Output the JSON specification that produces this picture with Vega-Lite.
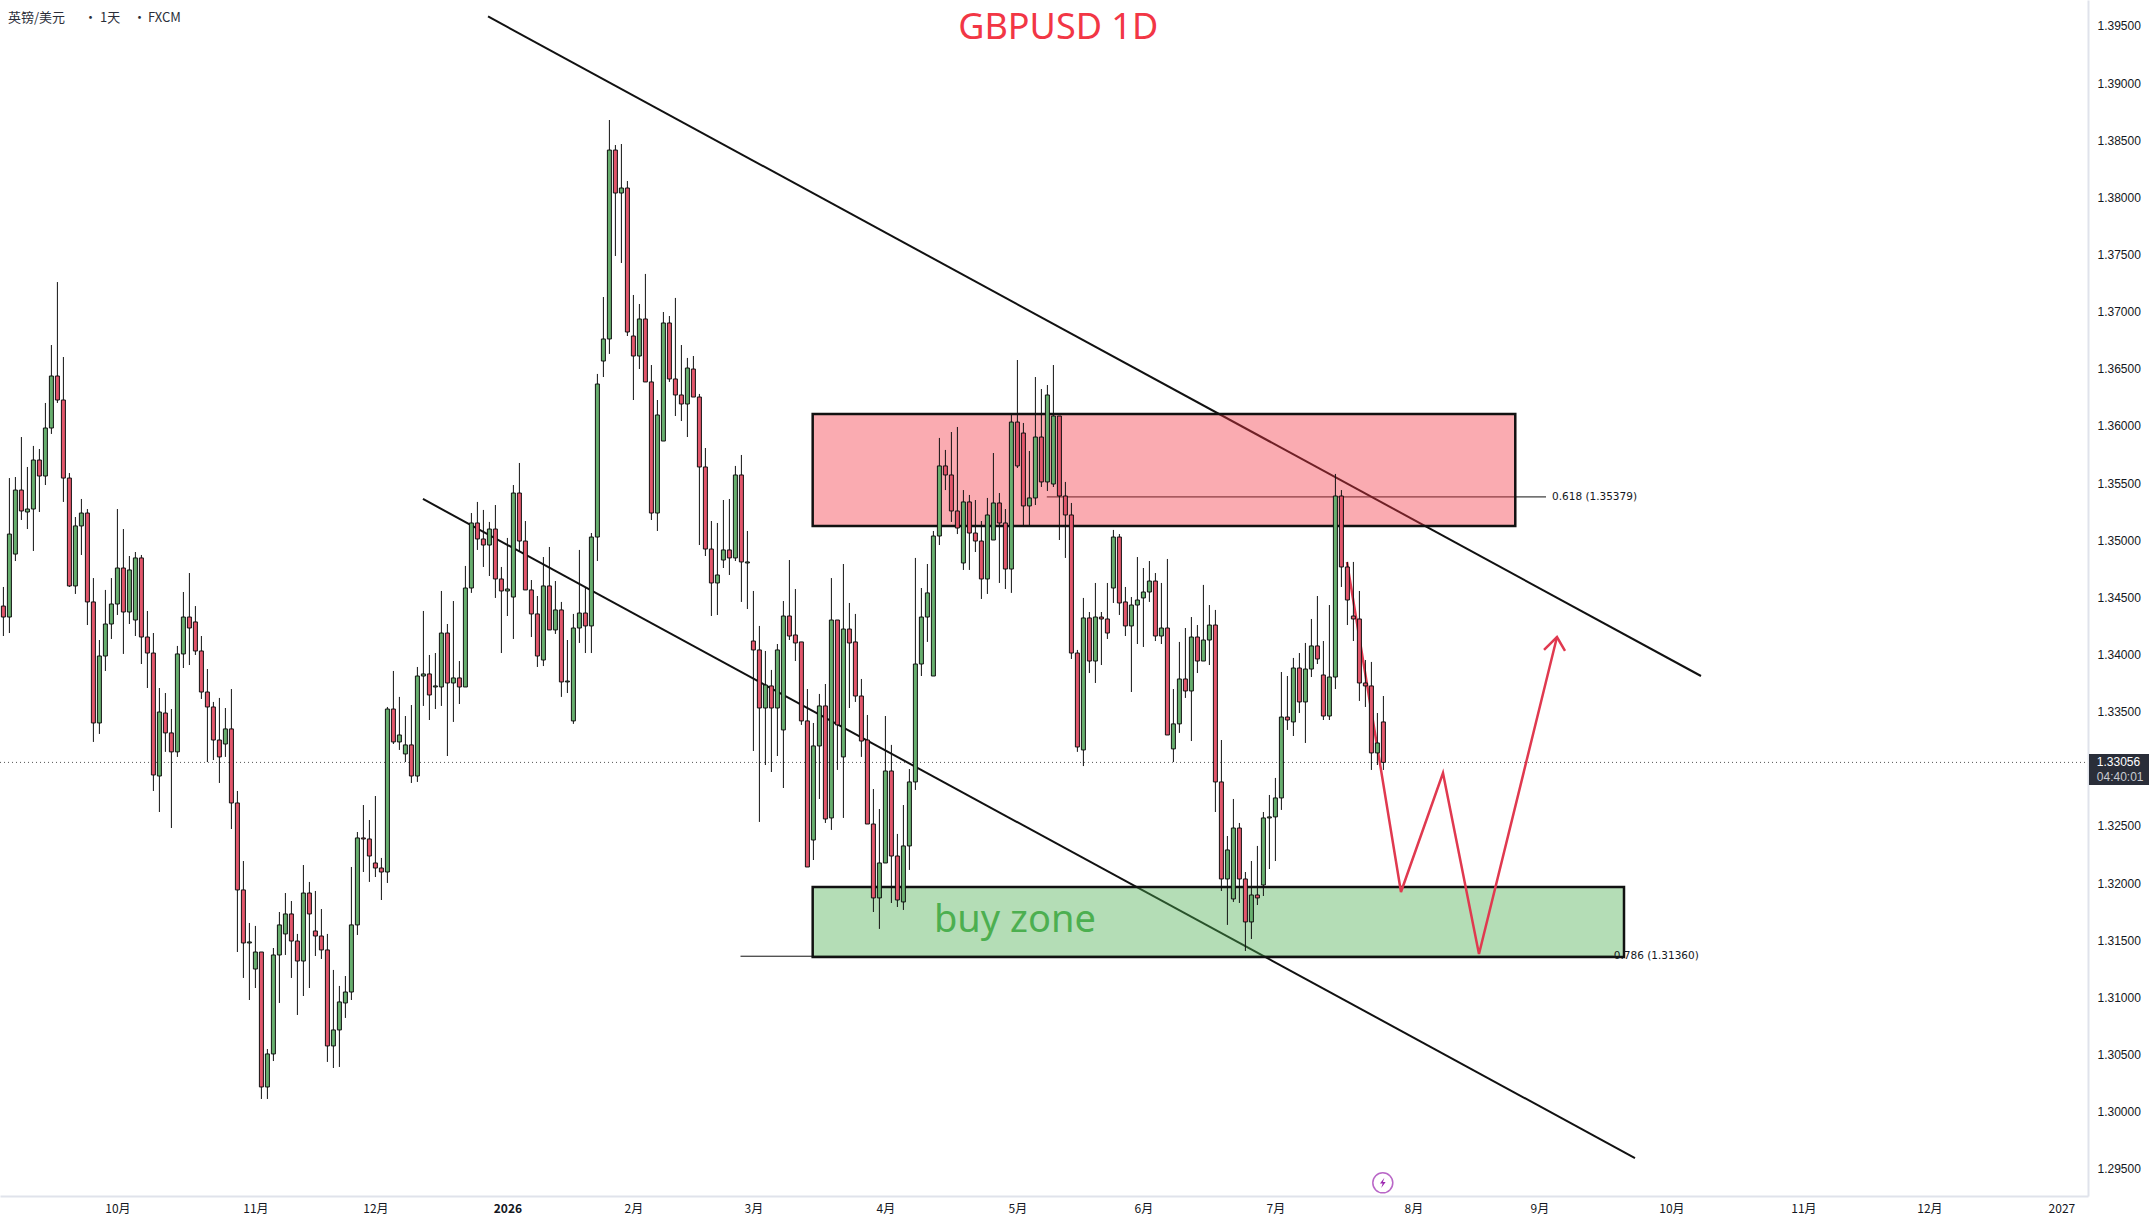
{
"$schema":"https://vega.github.io/schema/vega-lite/v6.json",
"width":2088,"height":1196,
"autosize":{"type":"none"},
"padding":{"left":0,"top":0,"right":66,"bottom":28},
"background":"white",
"config":{"view":{"stroke":null}},
"datasets":{
"candles":[
{"bar":0,"open":1.34424,"high":1.34591,"low":1.34162,"close":1.34328},
{"bar":1,"open":1.34328,"high":1.35544,"low":1.34188,"close":1.35054},
{"bar":2,"open":1.34879,"high":1.35553,"low":1.34818,"close":1.35439},
{"bar":3,"open":1.35439,"high":1.35903,"low":1.35177,"close":1.35256},
{"bar":4,"open":1.35247,"high":1.35641,"low":1.35098,"close":1.35273},
{"bar":5,"open":1.35273,"high":1.35825,"low":1.34906,"close":1.35702},
{"bar":6,"open":1.35702,"high":1.35798,"low":1.35247,"close":1.35562},
{"bar":7,"open":1.35562,"high":1.36201,"low":1.35483,"close":1.35982},
{"bar":8,"open":1.35982,"high":1.36708,"low":1.3593,"close":1.36437},
{"bar":9,"open":1.36437,"high":1.37259,"low":1.36201,"close":1.36227},
{"bar":10,"open":1.36227,"high":1.36603,"low":1.35335,"close":1.35544},
{"bar":11,"open":1.35544,"high":1.35588,"low":1.34591,"close":1.346},
{"bar":12,"open":1.346,"high":1.35203,"low":1.3453,"close":1.35125},
{"bar":13,"open":1.35125,"high":1.35361,"low":1.34871,"close":1.35238},
{"bar":14,"open":1.35238,"high":1.35273,"low":1.34258,"close":1.3446},
{"bar":15,"open":1.3446,"high":1.34669,"low":1.33235,"close":1.33401},
{"bar":16,"open":1.33401,"high":1.34127,"low":1.33305,"close":1.33987},
{"bar":17,"open":1.33987,"high":1.34565,"low":1.33856,"close":1.34267},
{"bar":18,"open":1.34267,"high":1.34669,"low":1.34136,"close":1.34442},
{"bar":19,"open":1.34442,"high":1.35273,"low":1.34346,"close":1.34757},
{"bar":20,"open":1.34757,"high":1.35098,"low":1.34005,"close":1.34372},
{"bar":21,"open":1.34372,"high":1.34862,"low":1.34267,"close":1.3474},
{"bar":22,"open":1.34302,"high":1.34897,"low":1.34162,"close":1.34845},
{"bar":23,"open":1.34845,"high":1.34871,"low":1.33917,"close":1.34153},
{"bar":24,"open":1.34153,"high":1.34381,"low":1.33707,"close":1.34013},
{"bar":25,"open":1.34013,"high":1.34188,"low":1.32806,"close":1.32946},
{"bar":26,"open":1.32937,"high":1.33707,"low":1.32622,"close":1.33497},
{"bar":27,"open":1.33488,"high":1.33663,"low":1.33148,"close":1.33314},
{"bar":28,"open":1.33314,"high":1.33523,"low":1.32482,"close":1.33148},
{"bar":29,"open":1.33148,"high":1.34075,"low":1.33104,"close":1.34005},
{"bar":30,"open":1.34005,"high":1.34547,"low":1.33882,"close":1.34328},
{"bar":31,"open":1.34328,"high":1.34713,"low":1.33908,"close":1.34232},
{"bar":32,"open":1.34285,"high":1.34424,"low":1.33996,"close":1.34031},
{"bar":33,"open":1.34031,"high":1.34162,"low":1.33611,"close":1.33672},
{"bar":34,"open":1.33672,"high":1.33873,"low":1.33059,"close":1.33541},
{"bar":35,"open":1.33541,"high":1.33585,"low":1.33077,"close":1.33252},
{"bar":36,"open":1.33252,"high":1.3362,"low":1.32876,"close":1.33104},
{"bar":37,"open":1.33217,"high":1.33532,"low":1.33104,"close":1.33349},
{"bar":38,"open":1.33349,"high":1.33698,"low":1.32473,"close":1.32701},
{"bar":39,"open":1.32701,"high":1.32806,"low":1.31397,"close":1.3194},
{"bar":40,"open":1.3194,"high":1.32193,"low":1.3117,"close":1.31476},
{"bar":41,"open":1.31476,"high":1.31651,"low":1.30977,"close":1.31485},
{"bar":42,"open":1.31248,"high":1.31625,"low":1.31082,"close":1.31397},
{"bar":43,"open":1.31397,"high":1.31397,"low":1.30111,"close":1.30216},
{"bar":44,"open":1.30216,"high":1.30548,"low":1.30111,"close":1.30505},
{"bar":45,"open":1.30505,"high":1.31432,"low":1.30443,"close":1.31371},
{"bar":46,"open":1.31371,"high":1.31747,"low":1.30951,"close":1.31634},
{"bar":47,"open":1.31555,"high":1.31913,"low":1.31371,"close":1.3173},
{"bar":48,"open":1.3173,"high":1.31843,"low":1.3117,"close":1.31493},
{"bar":49,"open":1.31493,"high":1.31555,"low":1.30846,"close":1.31318},
{"bar":50,"open":1.31318,"high":1.32158,"low":1.31012,"close":1.31913},
{"bar":51,"open":1.31913,"high":1.3201,"low":1.31082,"close":1.3173},
{"bar":52,"open":1.31581,"high":1.31931,"low":1.31362,"close":1.31537},
{"bar":53,"open":1.31537,"high":1.31773,"low":1.31336,"close":1.31415},
{"bar":54,"open":1.31415,"high":1.31555,"low":1.30435,"close":1.30575},
{"bar":55,"open":1.30575,"high":1.3124,"low":1.30382,"close":1.30715},
{"bar":56,"open":1.30715,"high":1.311,"low":1.30391,"close":1.3096},
{"bar":57,"open":1.30951,"high":1.31187,"low":1.3082,"close":1.31047},
{"bar":58,"open":1.31047,"high":1.32141,"low":1.30977,"close":1.31634},
{"bar":59,"open":1.31634,"high":1.32447,"low":1.31546,"close":1.32395},
{"bar":60,"open":1.32395,"high":1.32683,"low":1.32097,"close":1.32386},
{"bar":61,"open":1.32386,"high":1.32552,"low":1.3201,"close":1.32237},
{"bar":62,"open":1.32176,"high":1.32762,"low":1.32053,"close":1.32132},
{"bar":63,"open":1.32132,"high":1.3222,"low":1.31852,"close":1.32097},
{"bar":64,"open":1.32097,"high":1.33541,"low":1.32001,"close":1.33523},
{"bar":65,"open":1.33523,"high":1.33856,"low":1.33217,"close":1.33235},
{"bar":66,"open":1.33235,"high":1.33629,"low":1.33165,"close":1.33296},
{"bar":67,"open":1.3313,"high":1.33462,"low":1.33059,"close":1.33209},
{"bar":68,"open":1.33209,"high":1.33558,"low":1.32876,"close":1.32937},
{"bar":69,"open":1.32937,"high":1.33891,"low":1.32885,"close":1.33812},
{"bar":70,"open":1.33812,"high":1.34381,"low":1.3355,"close":1.3383},
{"bar":71,"open":1.3383,"high":1.33996,"low":1.33427,"close":1.33646},
{"bar":72,"open":1.33716,"high":1.34013,"low":1.33523,"close":1.33725},
{"bar":73,"open":1.33716,"high":1.34556,"low":1.3355,"close":1.34188},
{"bar":74,"open":1.34188,"high":1.34267,"low":1.33112,"close":1.33751},
{"bar":75,"open":1.33751,"high":1.34468,"low":1.3341,"close":1.33795},
{"bar":76,"open":1.33795,"high":1.33943,"low":1.33567,"close":1.33716},
{"bar":77,"open":1.33716,"high":1.34775,"low":1.33716,"close":1.34582},
{"bar":78,"open":1.34582,"high":1.35238,"low":1.34539,"close":1.35151},
{"bar":79,"open":1.35151,"high":1.35335,"low":1.34915,"close":1.35011},
{"bar":80,"open":1.35011,"high":1.35265,"low":1.34766,"close":1.34958},
{"bar":81,"open":1.34958,"high":1.3516,"low":1.34687,"close":1.35098},
{"bar":82,"open":1.35098,"high":1.35308,"low":1.34495,"close":1.34661},
{"bar":83,"open":1.34661,"high":1.34766,"low":1.34013,"close":1.34556},
{"bar":84,"open":1.34556,"high":1.3502,"low":1.34337,"close":1.34573},
{"bar":85,"open":1.34503,"high":1.35483,"low":1.34136,"close":1.35413},
{"bar":86,"open":1.35413,"high":1.35676,"low":1.34897,"close":1.34993},
{"bar":87,"open":1.34993,"high":1.35168,"low":1.34565,"close":1.34565},
{"bar":88,"open":1.34565,"high":1.34652,"low":1.34153,"close":1.34355},
{"bar":89,"open":1.34355,"high":1.34512,"low":1.33891,"close":1.33987},
{"bar":90,"open":1.33952,"high":1.34853,"low":1.33899,"close":1.346},
{"bar":91,"open":1.346,"high":1.34941,"low":1.34215,"close":1.34215},
{"bar":92,"open":1.34215,"high":1.34643,"low":1.3418,"close":1.3439},
{"bar":93,"open":1.3439,"high":1.3446,"low":1.33629,"close":1.3376},
{"bar":94,"open":1.3376,"high":1.34127,"low":1.33663,"close":1.33768},
{"bar":95,"open":1.33419,"high":1.34355,"low":1.33393,"close":1.34232},
{"bar":96,"open":1.34232,"high":1.34915,"low":1.34101,"close":1.34363},
{"bar":97,"open":1.34363,"high":1.34591,"low":1.34013,"close":1.3425},
{"bar":98,"open":1.3425,"high":1.35063,"low":1.34013,"close":1.35028},
{"bar":99,"open":1.35028,"high":1.36455,"low":1.34818,"close":1.36367},
{"bar":100,"open":1.36568,"high":1.37128,"low":1.36428,"close":1.36761},
{"bar":101,"open":1.36761,"high":1.38677,"low":1.3663,"close":1.38414},
{"bar":102,"open":1.38414,"high":1.38458,"low":1.37487,"close":1.38038},
{"bar":103,"open":1.38038,"high":1.38467,"low":1.37426,"close":1.38082},
{"bar":104,"open":1.38082,"high":1.38143,"low":1.36787,"close":1.36822},
{"bar":105,"open":1.36787,"high":1.37146,"low":1.36227,"close":1.36612},
{"bar":106,"open":1.36612,"high":1.37067,"low":1.36498,"close":1.36936},
{"bar":107,"open":1.36936,"high":1.3733,"low":1.36385,"close":1.36385},
{"bar":108,"open":1.36385,"high":1.36533,"low":1.35177,"close":1.35238},
{"bar":109,"open":1.35238,"high":1.36227,"low":1.35081,"close":1.36096},
{"bar":110,"open":1.35868,"high":1.36997,"low":1.35868,"close":1.36901},
{"bar":111,"open":1.36901,"high":1.36962,"low":1.36385,"close":1.36411},
{"bar":112,"open":1.36411,"high":1.3712,"low":1.36087,"close":1.36271},
{"bar":113,"open":1.36271,"high":1.36708,"low":1.36043,"close":1.36192},
{"bar":114,"open":1.36192,"high":1.36595,"low":1.35903,"close":1.36507},
{"bar":115,"open":1.36498,"high":1.36612,"low":1.36253,"close":1.36253},
{"bar":116,"open":1.36253,"high":1.3628,"low":1.34958,"close":1.35641},
{"bar":117,"open":1.35641,"high":1.35807,"low":1.34862,"close":1.34923},
{"bar":118,"open":1.34923,"high":1.35168,"low":1.34337,"close":1.34626},
{"bar":119,"open":1.34626,"high":1.35151,"low":1.34346,"close":1.34696},
{"bar":120,"open":1.34827,"high":1.35352,"low":1.34757,"close":1.34915},
{"bar":121,"open":1.34915,"high":1.35361,"low":1.34696,"close":1.34845},
{"bar":122,"open":1.34845,"high":1.3565,"low":1.34818,"close":1.35571},
{"bar":123,"open":1.35571,"high":1.35746,"low":1.3446,"close":1.3481},
{"bar":124,"open":1.34801,"high":1.35081,"low":1.34398,"close":1.3481},
{"bar":125,"open":1.34118,"high":1.34556,"low":1.33156,"close":1.3404},
{"bar":126,"open":1.3404,"high":1.3425,"low":1.32535,"close":1.33532},
{"bar":127,"open":1.33532,"high":1.34031,"low":1.33033,"close":1.33733},
{"bar":128,"open":1.33725,"high":1.33865,"low":1.32972,"close":1.33532},
{"bar":129,"open":1.33532,"high":1.34092,"low":1.33112,"close":1.3404},
{"bar":130,"open":1.3334,"high":1.34468,"low":1.32832,"close":1.34337},
{"bar":131,"open":1.34337,"high":1.34827,"low":1.34127,"close":1.34162},
{"bar":132,"open":1.34171,"high":1.34573,"low":1.33943,"close":1.34101},
{"bar":133,"open":1.3411,"high":1.3411,"low":1.33384,"close":1.33419},
{"bar":134,"open":1.33419,"high":1.33698,"low":1.32141,"close":1.32141},
{"bar":135,"open":1.32377,"high":1.33401,"low":1.32202,"close":1.332},
{"bar":136,"open":1.332,"high":1.33655,"low":1.32736,"close":1.3355},
{"bar":137,"open":1.3355,"high":1.33742,"low":1.32526,"close":1.32561},
{"bar":138,"open":1.3257,"high":1.34669,"low":1.32465,"close":1.34302},
{"bar":139,"open":1.34302,"high":1.34302,"low":1.3299,"close":1.33384},
{"bar":140,"open":1.33104,"high":1.34792,"low":1.3257,"close":1.34223},
{"bar":141,"open":1.34223,"high":1.34451,"low":1.33532,"close":1.34101},
{"bar":142,"open":1.3411,"high":1.34355,"low":1.33585,"close":1.33637},
{"bar":143,"open":1.33637,"high":1.33786,"low":1.33104,"close":1.33243},
{"bar":144,"open":1.33252,"high":1.33471,"low":1.32517,"close":1.32517},
{"bar":145,"open":1.32517,"high":1.32823,"low":1.31747,"close":1.3187},
{"bar":146,"open":1.3187,"high":1.32648,"low":1.31599,"close":1.32176},
{"bar":147,"open":1.32176,"high":1.33462,"low":1.32176,"close":1.32981},
{"bar":148,"open":1.32981,"high":1.33209,"low":1.31826,"close":1.32237},
{"bar":149,"open":1.32237,"high":1.3243,"low":1.31791,"close":1.31852},
{"bar":150,"open":1.31835,"high":1.32683,"low":1.31765,"close":1.32325},
{"bar":151,"open":1.32325,"high":1.32998,"low":1.32115,"close":1.32885},
{"bar":152,"open":1.32885,"high":1.34845,"low":1.32815,"close":1.33917},
{"bar":153,"open":1.33917,"high":1.34582,"low":1.33812,"close":1.34328},
{"bar":154,"open":1.34328,"high":1.34792,"low":1.3411,"close":1.34539},
{"bar":155,"open":1.33812,"high":1.35081,"low":1.33812,"close":1.35037},
{"bar":156,"open":1.35037,"high":1.35895,"low":1.34958,"close":1.3565},
{"bar":157,"open":1.3565,"high":1.3579,"low":1.35439,"close":1.35571},
{"bar":158,"open":1.35571,"high":1.35947,"low":1.3516,"close":1.35256},
{"bar":159,"open":1.35256,"high":1.35991,"low":1.35054,"close":1.35107},
{"bar":160,"open":1.34801,"high":1.35439,"low":1.3474,"close":1.35335},
{"bar":161,"open":1.35335,"high":1.35396,"low":1.3474,"close":1.35063},
{"bar":162,"open":1.35063,"high":1.35352,"low":1.34897,"close":1.34993},
{"bar":163,"open":1.34993,"high":1.35168,"low":1.34486,"close":1.34661},
{"bar":164,"open":1.34661,"high":1.3537,"low":1.3453,"close":1.35221},
{"bar":165,"open":1.35002,"high":1.35763,"low":1.35002,"close":1.35326},
{"bar":166,"open":1.35326,"high":1.35413,"low":1.34626,"close":1.35151},
{"bar":167,"open":1.35151,"high":1.35273,"low":1.34573,"close":1.34748},
{"bar":168,"open":1.34748,"high":1.36096,"low":1.34539,"close":1.36034},
{"bar":169,"open":1.36034,"high":1.36577,"low":1.35632,"close":1.3565},
{"bar":170,"open":1.35938,"high":1.36026,"low":1.35133,"close":1.353},
{"bar":171,"open":1.353,"high":1.35781,"low":1.35133,"close":1.3537},
{"bar":172,"open":1.3537,"high":1.36428,"low":1.35308,"close":1.35903},
{"bar":173,"open":1.35903,"high":1.36323,"low":1.35466,"close":1.3551},
{"bar":174,"open":1.3551,"high":1.36358,"low":1.35431,"close":1.36271},
{"bar":175,"open":1.35492,"high":1.36533,"low":1.35466,"close":1.36087},
{"bar":176,"open":1.36087,"high":1.36087,"low":1.35002,"close":1.35387},
{"bar":177,"open":1.35387,"high":1.3551,"low":1.34845,"close":1.35221},
{"bar":178,"open":1.35221,"high":1.35326,"low":1.33961,"close":1.34013},
{"bar":179,"open":1.34013,"high":1.3404,"low":1.33148,"close":1.33191},
{"bar":180,"open":1.33165,"high":1.34495,"low":1.33024,"close":1.3432},
{"bar":181,"open":1.3432,"high":1.34372,"low":1.33838,"close":1.33943},
{"bar":182,"open":1.33943,"high":1.34626,"low":1.33751,"close":1.34328},
{"bar":183,"open":1.34328,"high":1.34372,"low":1.33908,"close":1.34311},
{"bar":184,"open":1.34311,"high":1.34626,"low":1.34136,"close":1.34188},
{"bar":185,"open":1.34582,"high":1.3509,"low":1.34451,"close":1.35028},
{"bar":186,"open":1.35028,"high":1.35054,"low":1.34346,"close":1.34451},
{"bar":187,"open":1.3446,"high":1.34591,"low":1.34162,"close":1.3425},
{"bar":188,"open":1.3425,"high":1.34503,"low":1.33672,"close":1.34433},
{"bar":189,"open":1.34433,"high":1.34853,"low":1.34092,"close":1.34477},
{"bar":190,"open":1.34495,"high":1.34757,"low":1.34066,"close":1.34547},
{"bar":191,"open":1.34547,"high":1.34818,"low":1.3446,"close":1.34643},
{"bar":192,"open":1.34643,"high":1.34713,"low":1.34118,"close":1.34162},
{"bar":193,"open":1.34162,"high":1.34626,"low":1.34092,"close":1.34232},
{"bar":194,"open":1.34232,"high":1.34836,"low":1.33296,"close":1.33296},
{"bar":195,"open":1.33174,"high":1.33698,"low":1.33059,"close":1.33393},
{"bar":196,"open":1.33393,"high":1.3411,"low":1.33314,"close":1.33786},
{"bar":197,"open":1.33786,"high":1.34232,"low":1.3362,"close":1.33681},
{"bar":198,"open":1.33681,"high":1.34328,"low":1.33243,"close":1.34153},
{"bar":199,"open":1.34153,"high":1.34258,"low":1.33838,"close":1.33943},
{"bar":200,"open":1.33943,"high":1.34609,"low":1.33943,"close":1.34127},
{"bar":201,"open":1.34127,"high":1.34433,"low":1.33908,"close":1.34258},
{"bar":202,"open":1.34258,"high":1.3439,"low":1.32622,"close":1.32885},
{"bar":203,"open":1.32885,"high":1.33252,"low":1.31931,"close":1.32036},
{"bar":204,"open":1.32036,"high":1.32412,"low":1.31634,"close":1.3229},
{"bar":205,"open":1.31861,"high":1.32736,"low":1.31835,"close":1.32482},
{"bar":206,"open":1.32482,"high":1.32526,"low":1.31826,"close":1.32036},
{"bar":207,"open":1.32036,"high":1.32097,"low":1.31406,"close":1.3166},
{"bar":208,"open":1.3166,"high":1.32193,"low":1.31511,"close":1.31896},
{"bar":209,"open":1.31896,"high":1.32325,"low":1.31808,"close":1.3187},
{"bar":210,"open":1.31983,"high":1.32622,"low":1.31887,"close":1.3257},
{"bar":211,"open":1.3257,"high":1.32771,"low":1.32123,"close":1.32579},
{"bar":212,"open":1.32579,"high":1.3292,"low":1.32193,"close":1.32745},
{"bar":213,"open":1.32745,"high":1.33847,"low":1.3264,"close":1.33453},
{"bar":214,"open":1.33453,"high":1.33812,"low":1.3334,"close":1.33427},
{"bar":215,"open":1.3341,"high":1.3397,"low":1.33287,"close":1.33882},
{"bar":216,"open":1.33882,"high":1.34013,"low":1.33488,"close":1.33585},
{"bar":217,"open":1.33585,"high":1.34101,"low":1.33226,"close":1.33873},
{"bar":218,"open":1.33873,"high":1.34311,"low":1.33803,"close":1.34075},
{"bar":219,"open":1.34075,"high":1.34512,"low":1.33917,"close":1.33961},
{"bar":220,"open":1.33821,"high":1.34118,"low":1.33427,"close":1.33462},
{"bar":221,"open":1.33462,"high":1.34433,"low":1.33427,"close":1.33803},
{"bar":222,"open":1.33803,"high":1.3558,"low":1.33698,"close":1.35387},
{"bar":223,"open":1.35387,"high":1.35439,"low":1.34591,"close":1.34766},
{"bar":224,"open":1.34766,"high":1.3481,"low":1.34258,"close":1.34477},
{"bar":225,"open":1.34337,"high":1.3481,"low":1.34118,"close":1.34311},
{"bar":226,"open":1.34311,"high":1.34556,"low":1.33594,"close":1.33751},
{"bar":227,"open":1.33751,"high":1.33952,"low":1.33541,"close":1.33725},
{"bar":228,"open":1.33725,"high":1.33935,"low":1.3299,"close":1.33139},
{"bar":229,"open":1.33139,"high":1.33488,"low":1.33033,"close":1.33226},
{"bar":230,"open":1.3341,"high":1.33637,"low":1.3299,"close":1.33056}
],
"trend":[
{"name":"upper","bar":80.77,"price":1.39583,"bar2":282.93,"price2":1.33812},
{"name":"lower","bar":69.93,"price":1.35361,"bar2":271.93,"price2":1.29594}
],
"fib":[
{"level":"0.618","bar":173.9,"bar2":257.1,"price":1.35379},
{"level":"0.786","bar":122.85,"bar2":268.4,"price":1.3136}
],
"path":[
{"leg":"path","step":1,"bar":223.93,"price":1.3481},
{"leg":"path","step":2,"bar":232.93,"price":1.31922},
{"leg":"path","step":3,"bar":239.93,"price":1.32963},
{"leg":"path","step":4,"bar":245.93,"price":1.3138},
{"leg":"path","step":5,"bar":258.93,"price":1.34153},
{"leg":"head","step":1,"bar":256.77,"price":1.3404},
{"leg":"head","step":2,"bar":258.93,"price":1.34153},
{"leg":"head","step":3,"bar":260.27,"price":1.34031}
]
},
"encoding":{
"x":{"field":"bar","type":"quantitative","title":null,
"scale":{"domain":[-0.5667,347.4333],"nice":false,"zero":false,"padding":0},
"axis":{"orient":"bottom","grid":false,"ticks":false,"domainColor":"#e0e3eb","domainWidth":2,
"values":[19,42,62,84,105,125,147,169,190,212,235,256,278,300,321,343],
"labelExpr":"{'19':'10月','42':'11月','62':'12月','84':'2026','105':'2月','125':'3月','147':'4月','169':'5月','190':'6月','212':'7月','235':'8月','256':'9月','278':'10月','300':'11月','321':'12月','343':'2027'}[datum.value]",
"labelFont":"Noto Sans CJK SC","labelFontSize":12,"labelColor":"#131722","labelPadding":7,"labelOverlap":false,"labelFlush":false,"labelBound":false,
"labelFontWeight":{"condition":{"test":"datum.value == 84","value":"bold"},"value":"normal"}}},
"y":{"field":"price","type":"quantitative","title":null,
"scale":{"domain":[1.29262,1.39727],"nice":false,"zero":false},
"axis":{"orient":"right","grid":false,"ticks":false,"domainColor":"#e0e3eb","domainWidth":2,
"values":[1.295,1.3,1.305,1.31,1.315,1.32,1.325,1.33,1.335,1.34,1.345,1.35,1.355,1.36,1.365,1.37,1.375,1.38,1.385,1.39,1.395],
"format":".5f","labelFont":"Liberation Sans","labelFontSize":12,"labelColor":"#131722","labelPadding":9,"labelOverlap":false,"labelBound":false}}
},
"layer":[
{"data":{"values":[{"price":1.33056}]},"mark":{"type":"rule","stroke":"#555555","strokeWidth":1,"strokeDash":[1,3]},"encoding":{"x":{"value":0},"x2":{"value":2088}}},
{"data":{"name":"trend"},"mark":{"type":"rule","stroke":"#111111","strokeWidth":2},"encoding":{"x2":{"field":"bar2"},"y2":{"field":"price2"}}},
{"data":{"name":"fib"},"mark":{"type":"rule","stroke":"#111111","strokeWidth":1},"encoding":{"x2":{"field":"bar2"}}},
{"data":{"values":[
{"zone":"sell","bar":134.88,"bar2":251.98,"price":1.36105,"price2":1.35125},
{"zone":"buy","bar":134.88,"bar2":270.1,"price":1.31966,"price2":1.31353}
]},"mark":{"type":"rect","stroke":"#111111","strokeWidth":2.5,"fillOpacity":0.42},
"encoding":{"x2":{"field":"bar2"},"y2":{"field":"price2"},
"fill":{"field":"zone","type":"nominal","legend":null,"scale":{"domain":["sell","buy"],"range":["#F23645","#4CAF50"]}}}},
{"data":{"name":"path"},"mark":{"type":"line","stroke":"#E0394F","strokeWidth":2.5},"encoding":{"detail":{"field":"leg"},"order":{"field":"step","type":"quantitative"}}},
{"data":{"name":"candles"},"mark":{"type":"rule","stroke":"#111111","strokeWidth":1},
"encoding":{"y":{"field":"high","type":"quantitative","title":null,"scale":{"domain":[1.29262,1.39727],"nice":false,"zero":false},"axis":{"orient":"right"}},"y2":{"field":"low"}}},
{"data":{"name":"candles"},"mark":{"type":"bar","size":4,"orient":"vertical","stroke":"#111111","strokeWidth":1},
"encoding":{"y":{"field":"open","type":"quantitative","title":null,"scale":{"domain":[1.29262,1.39727],"nice":false,"zero":false},"axis":{"orient":"right"}},"y2":{"field":"close"},
"color":{"condition":{"test":"datum.close >= datum.open","value":"#67AE6E"},"value":"#E2566B"}}},
{"data":{"values":[{"label":"0.618 (1.35379)","bar":258.1,"price":1.35379},{"label":"0.786 (1.31360)","bar":268.4,"price":1.3136}]},"mark":{"type":"text","align":"left","baseline":"middle","font":"DejaVu Sans","fontSize":10.5,"color":"#131722"},"encoding":{"text":{"field":"label"}}},
{"data":{"values":[{"label":"buy zone","bar":155.1,"price":1.31671}]},"mark":{"type":"text","align":"left","baseline":"middle","font":"Noto Sans","fontSize":38,"color":"#4CAF50"},"encoding":{"text":{"field":"label"}}},
{"data":{"values":[{"label":"GBPUSD 1D","bar":175.8,"price":1.39485}]},"mark":{"type":"text","align":"center","baseline":"middle","font":"Noto Sans","fontSize":36,"color":"#F23645"},"encoding":{"text":{"field":"label"}}},
{"data":{"values":[
{"label":"英镑/美元","bar":0.77,"price":1.3957},
{"label":"•","bar":13.43,"price":1.3957},
{"label":"1天","bar":16.1,"price":1.3957},
{"label":"•","bar":21.6,"price":1.3957},
{"label":"FXCM","bar":24.1,"price":1.3957}
]},"mark":{"type":"text","align":"left","baseline":"middle","font":"Noto Sans CJK SC","fontSize":13,"color":"#2a2e39"},"encoding":{"text":{"field":"label"}}},
{"data":{"values":[{"bar":347.6,"bar2":357.6,"price":1.3313,"price2":1.32859}]},"mark":{"type":"rect","fill":"#2a2e39"},"encoding":{"x2":{"field":"bar2"},"y2":{"field":"price2"}}},
{"data":{"values":[
{"label":"1.33056","bar":348.9,"price":1.33056,"part":"price"},
{"label":"04:40:01","bar":348.9,"price":1.32931,"part":"timer"}
]},"mark":{"type":"text","align":"left","baseline":"middle","font":"Liberation Sans","fontSize":12},
"encoding":{"text":{"field":"label"},"color":{"field":"part","type":"nominal","legend":null,"scale":{"domain":["price","timer"],"range":["#ffffff","#c8cad0"]}}}},
{"data":{"values":[{"bar":229.9,"price":1.29377}]},"mark":{"type":"point","shape":"circle","size":400,"stroke":"#9C27B0","strokeWidth":1.5,"filled":false}},
{"data":{"values":[{"bar":229.9,"price":1.29377}]},"mark":{"type":"point","shape":"M0.25,-0.8 L-0.45,0.12 L-0.02,0.12 L-0.25,0.8 L0.45,-0.12 L0.02,-0.12 Z","size":160,"fill":"#9C27B0","filled":true,"opacity":1}}
]
}
